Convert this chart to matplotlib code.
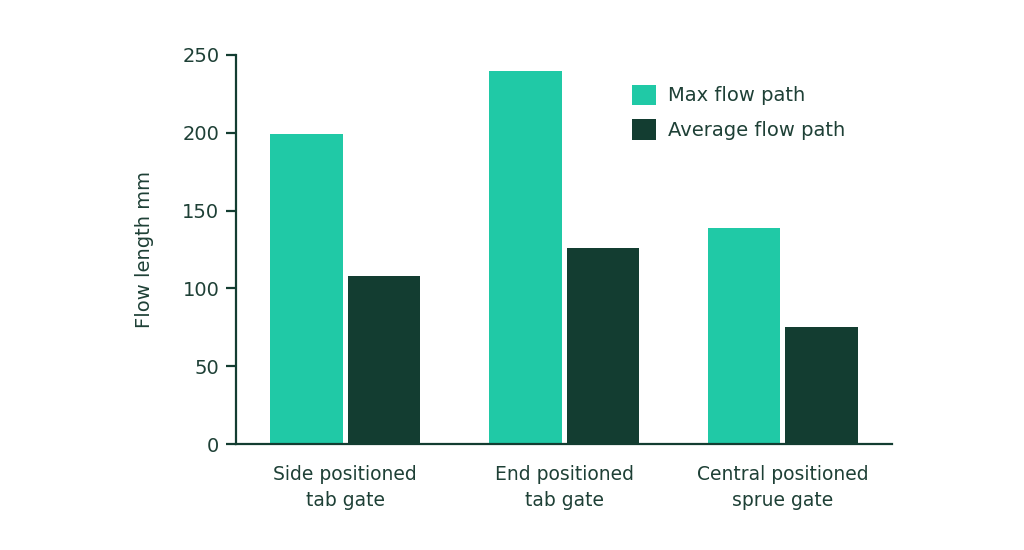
import numpy as np
import matplotlib.pyplot as plt

# values
categories = ["Side positioned\ntab gate", "End positioned\ntab gate", "Central positioned\nsprue gate"]
max_flow = [199, 240, 139]
avg_flow = [108, 126, 75]
series_names = ["Max flow path", "Average flow path"]

teal = "#20c9a6"
dark = "#133d31"
text_col = "#1e4036"

fig = plt.figure(figsize=(10.24, 5.5), dpi=100)
ax = fig.add_axes([0.2305, 0.1927, 0.6406, 0.7073])

x = np.arange(len(categories))
w = 0.333
gap = 0.023
ax.bar(x - (w + gap) / 2, max_flow, width=w, color=teal, label=series_names[0])
ax.bar(x + (w + gap) / 2, avg_flow, width=w, color=dark, label=series_names[1])

ax.set_xlim(-0.498, 2.498)
ax.set_ylim(0, 250)
ax.set_yticks([0, 50, 100, 150, 200, 250])
ax.set_xticks(x)
ax.set_xticklabels(categories, fontsize=13.5, color=text_col, linespacing=1.45)

for s in ["top", "right"]:
    ax.spines[s].set_visible(False)
ax.spines["left"].set_color(dark)
ax.spines["bottom"].set_color(dark)
ax.spines["left"].set_linewidth(1.6)
ax.spines["bottom"].set_linewidth(1.6)
ax.tick_params(axis="y", colors=dark, labelcolor=text_col, labelsize=14, length=7, width=1.6, pad=5)
ax.tick_params(axis="x", length=0, pad=15)

ax.set_ylabel("Flow length mm", fontsize=14, color=text_col, labelpad=20)

leg = ax.legend(loc="upper left", bbox_to_anchor=(0.589, 0.949), frameon=False,
                fontsize=14, handlelength=1.25, handleheight=1.25, handletextpad=0.6,
                labelspacing=0.72, borderpad=0)
for t in leg.get_texts():
    t.set_color(text_col)

fig.savefig("out.png", dpi=100)
